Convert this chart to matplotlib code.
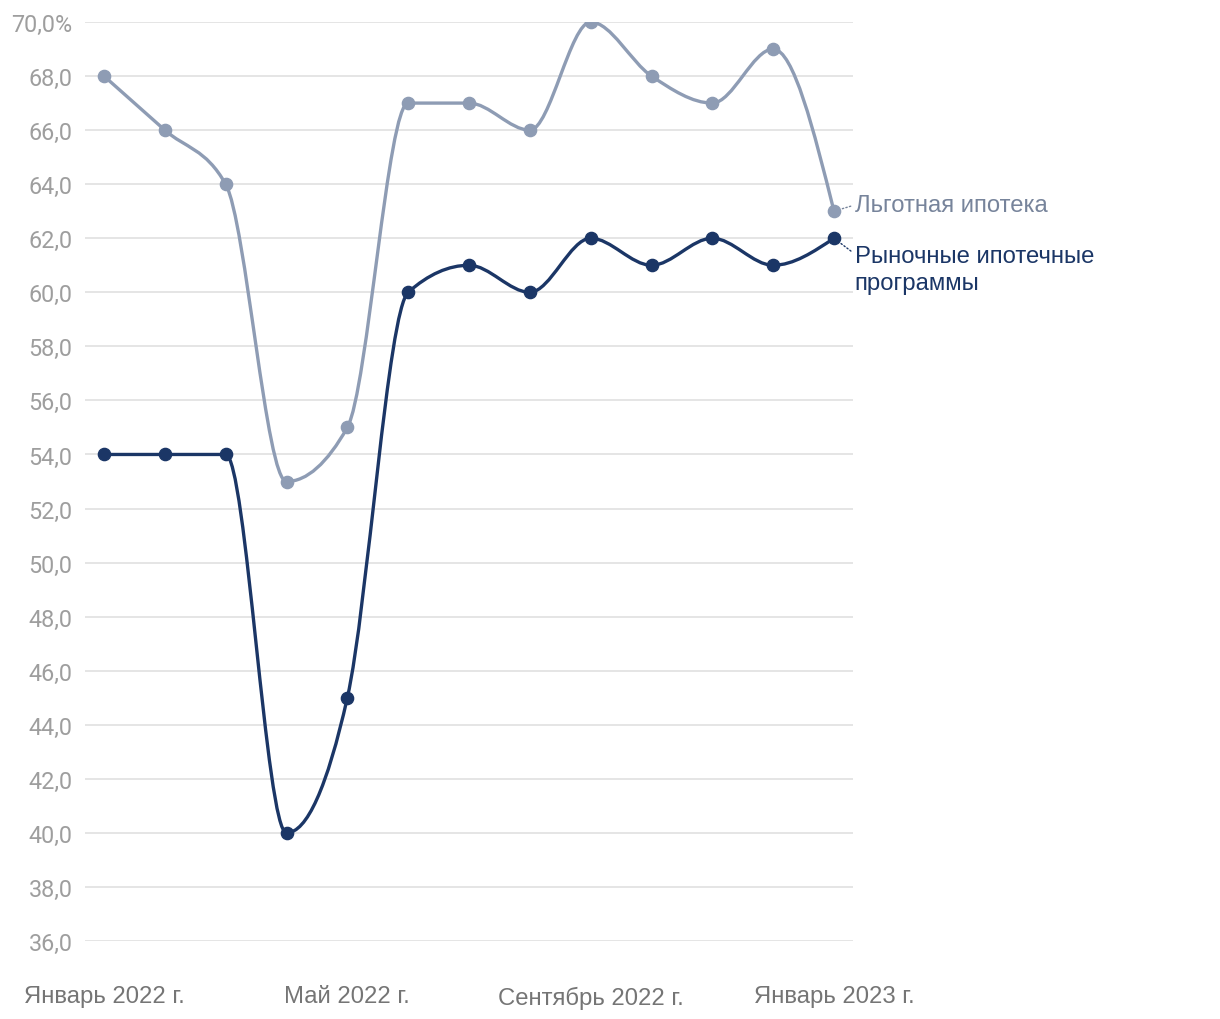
import numpy as np
import matplotlib
matplotlib.use("Agg")
import matplotlib.pyplot as plt
from matplotlib.path import Path
from matplotlib.patches import PathPatch

plt.rcParams['font.family'] = ['Roboto', 'DejaVu Sans']

months = ["Январь 2022 г.", "Февраль 2022 г.", "Март 2022 г.", "Апрель 2022 г.", "Май 2022 г.",
          "Июнь 2022 г.", "Июль 2022 г.", "Август 2022 г.", "Сентябрь 2022 г.", "Октябрь 2022 г.",
          "Ноябрь 2022 г.", "Декабрь 2022 г.", "Январь 2023 г."]
preferential = [68, 66, 64, 53, 55, 67, 67, 66, 70, 68, 67, 69, 63]
market = [54, 54, 54, 40, 45, 60, 61, 60, 62, 61, 62, 61, 62]
series_names = ["Льготная ипотека", "Рыночные ипотечные\nпрограммы"]
y_ticks = [36, 38, 40, 42, 44, 46, 48, 50, 52, 54, 56, 58, 60, 62, 64, 66, 68, 70]
x_tick_idx = [0, 4, 8, 12]

LIGHT = "#8e9cb4"
DARK = "#1b3666"
SANS = ['Liberation Sans', 'DejaVu Sans']


def monotone_path(x, y):
    x = np.asarray(x, float); y = np.asarray(y, float)
    n = len(x)
    h = np.diff(x)
    s = np.diff(y) / h
    t = np.zeros(n)
    for i in range(1, n - 1):
        s0, s1 = s[i - 1], s[i]
        p = (s0 * h[i] + s1 * h[i - 1]) / (h[i - 1] + h[i])
        t[i] = (np.sign(s0) + np.sign(s1)) * min(abs(s0), abs(s1), 0.5 * abs(p))
    t[0] = (3 * s[0] - t[1]) / 2
    t[-1] = (3 * s[-1] - t[-2]) / 2
    verts = [(x[0], y[0])]
    codes = [Path.MOVETO]
    for i in range(n - 1):
        dx = (x[i + 1] - x[i]) / 3
        verts += [(x[i] + dx, y[i] + dx * t[i]), (x[i + 1] - dx, y[i + 1] - dx * t[i + 1]), (x[i + 1], y[i + 1])]
        codes += [Path.CURVE4] * 3
    return Path(verts, codes)


fig = plt.figure(figsize=(12.2, 10.2), dpi=100)
ax = fig.add_axes([85 / 1220, 1 - 942 / 1020, (853 - 85) / 1220, (942 - 23) / 1020])

xs = np.arange(len(months))
for vals, col in [(preferential, LIGHT), (market, DARK)]:
    ax.add_patch(PathPatch(monotone_path(xs, vals), facecolor='none', edgecolor=col, lw=2.4,
                           capstyle='round', joinstyle='round', zorder=3))
    ax.plot(xs, vals, 'o', color=col, ms=8.8, zorder=4)

span = 12 / (834 - 104) * 19
ax.set_xlim(-span, 12 + span)
ax.set_ylim(36, 70)

ax.set_yticks(y_ticks)
ax.set_yticklabels([f"{v:.1f}".replace('.', ',') + ("%" if v == 70 else "") for v in y_ticks])
ax.set_xticks(x_tick_idx)
ax.set_xticklabels([months[i] for i in x_tick_idx], family=SANS)
ax.tick_params(axis='y', length=0, pad=9, labelsize=16.8, labelcolor='#9e9e9e')
ax.tick_params(axis='x', length=0, pad=32, labelsize=17.2, labelcolor='#757575')
for sp in ax.spines.values():
    sp.set_visible(False)
ax.grid(axis='y', color='#e3e3e3', lw=1.3)
ax.set_axisbelow(True)

ax.annotate(series_names[0], xy=(12, preferential[-1]), xytext=(15, 4.5), textcoords='offset points',
            fontsize=17.2, family=SANS, color='#77849b', va='center', ha='left', annotation_clip=False,
            arrowprops=dict(arrowstyle='-', linestyle=':', color='#77849b', lw=1,
                            shrinkA=1, shrinkB=6, relpos=(0, 0.5)))
ax.annotate(series_names[1], xy=(12, market[-1]), xytext=(15, -5), textcoords='offset points',
            fontsize=17.2, family=SANS, color=DARK, va='top', ha='left', linespacing=1.3, annotation_clip=False,
            arrowprops=dict(arrowstyle='-', linestyle=':', color=DARK, lw=1,
                            shrinkA=1, shrinkB=6, relpos=(0, 0.82)))

fig.savefig("out.png", dpi=100)
